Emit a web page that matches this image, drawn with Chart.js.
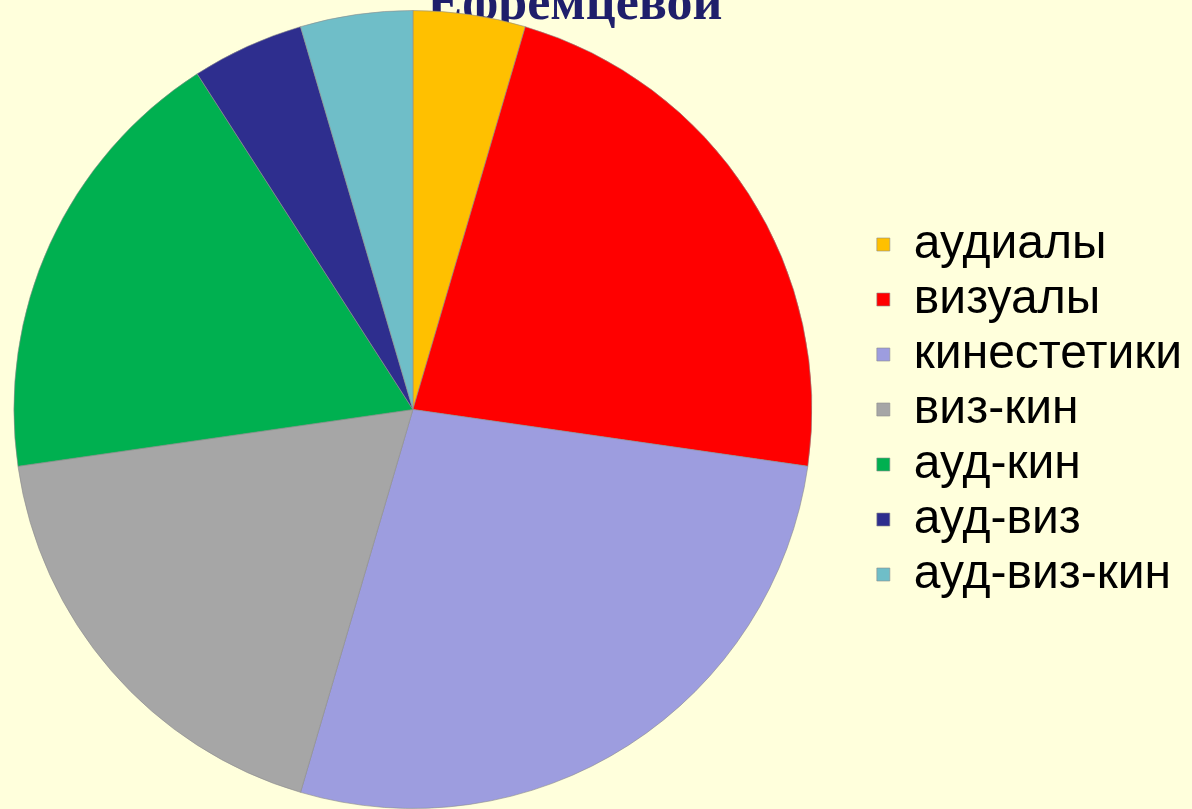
<!DOCTYPE html>
<html>
<head>
<meta charset="utf-8">
<script src="https://cdn.jsdelivr.net/npm/chart.js@4.4.0/dist/chart.umd.min.js"></script>
<style>
  html, body { margin: 0; padding: 0; background: #FFFFDC; overflow: hidden; }
  /* canvas pushed left a bit so the pie sits where it does in the slide */
  #wrap { width: 1236px; height: 809px; position: relative; left: -44px; }
</style>
</head>
<body>
<div id="wrap"><canvas id="grafico"></canvas></div>
<script>
const titulo = 'Ефремцевой';
const categorias = ['аудиалы', 'визуалы', 'кинестетики', 'виз-кин', 'ауд-кин', 'ауд-виз', 'ауд-виз-кин'];
const valores = [1, 5, 6, 4, 4, 1, 1];
const cores = ['#FFC000', '#FF0000', '#9D9DDF', '#A6A6A6', '#00B050', '#2E2E8E', '#6FBEC8'];

// title sits behind the pie, half cut off at the top
const tituloAtras = {
    id: 'tituloAtras',
    beforeDatasetsDraw(chart) {
        const ctx = chart.ctx;
        ctx.save();
        ctx.font = 'bold 52px "Liberation Serif", "Times New Roman", serif';
        ctx.fillStyle = '#1F1F6B';
        ctx.textAlign = 'center';
        ctx.textBaseline = 'alphabetic';
        ctx.fillText(titulo, 575 + 44, 19);
        ctx.restore();
    }
};

const grafico = new Chart(document.getElementById('grafico'), {
    type: 'pie',
    data: {
        labels: categorias,
        datasets: [{
            data: valores,
            backgroundColor: cores,
            borderColor: 'rgba(140,140,140,0.6)',
            borderWidth: 1
        }]
    },
    options: {
        responsive: true,
        maintainAspectRatio: false,
        animation: false,
        layout: {
            padding: { top: 10, left: 0, right: 0, bottom: 0 }
        },
        plugins: {
            legend: {
                position: 'right',
                labels: {
                    color: '#000',
                    boxWidth: 13,
                    boxHeight: 13,
                    padding: 7,
                    font: { family: '"Liberation Sans", Arial, sans-serif', size: 48 }
                }
            },
            tooltip: { enabled: false }
        }
    },
    plugins: [tituloAtras]
});
</script>
</body>
</html>
